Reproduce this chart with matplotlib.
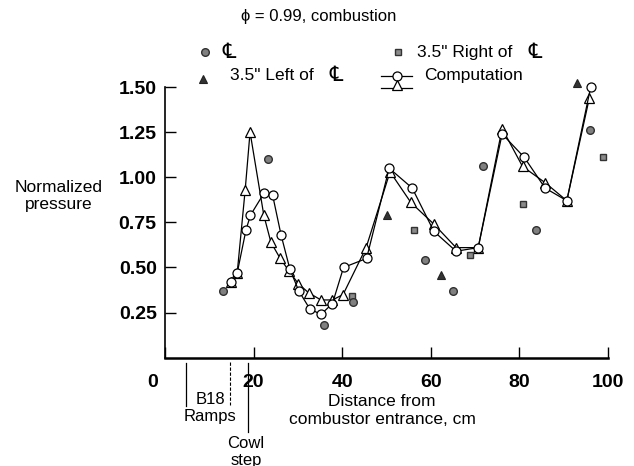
import matplotlib
matplotlib.use("Agg")
import matplotlib.pyplot as plt
from matplotlib.lines import Line2D
from matplotlib.transforms import ScaledTranslation

plt.rcParams['font.family'] = ['Liberation Sans', 'DejaVu Sans', 'Noto Sans CJK JP']

# Computation (open circles)
comp_c_x = [15.0, 16.3, 18.3, 19.3, 22.3, 24.3, 26.2, 28.2, 30.2, 32.7, 35.2, 37.8, 40.3, 45.5,
            50.6, 55.8, 60.7, 65.7, 70.7, 76.1, 81.1, 85.8, 90.7, 96.1]
comp_c_y = [0.42, 0.47, 0.71, 0.79, 0.91, 0.90, 0.68, 0.49, 0.37, 0.27, 0.24, 0.30, 0.50, 0.55,
            1.05, 0.94, 0.70, 0.59, 0.61, 1.24, 1.11, 0.94, 0.87, 1.50]
# Computation (open triangles)
comp_t_x = [15.0, 16.3, 18.1, 19.2, 22.3, 23.9, 26.0, 28.0, 30.1, 32.4, 35.2, 37.8, 40.2, 45.4,
            50.8, 55.5, 60.7, 65.7, 70.7, 76.1, 80.7, 85.8, 90.7, 95.8]
comp_t_y = [0.42, 0.47, 0.93, 1.25, 0.79, 0.64, 0.55, 0.48, 0.41, 0.36, 0.32, 0.32, 0.35, 0.61,
            1.03, 0.86, 0.74, 0.61, 0.61, 1.27, 1.06, 0.97, 0.87, 1.44]
# Experiment: centerline (filled circles)
cl_x = [13.0, 23.2, 36.0, 42.4, 58.8, 65.1, 71.8, 83.7, 95.9]
cl_y = [0.37, 1.10, 0.18, 0.31, 0.54, 0.37, 1.06, 0.71, 1.26]
# Experiment: 3.5" left of centerline (filled triangles)
left_x = [50.2, 62.2, 92.9]
left_y = [0.79, 0.46, 1.52]
# Experiment: 3.5" right of centerline (squares)
right_x = [42.2, 56.2, 68.8, 80.8, 98.8]
right_y = [0.34, 0.71, 0.57, 0.85, 1.11]

xticks = [0, 20, 40, 60, 80, 100]
yticks = [0.25, 0.50, 0.75, 1.00, 1.25, 1.50]

W, H = 634, 466
fig = plt.figure(figsize=(W / 100, H / 100), dpi=100)
def fx(px): return px / W
def fy(py): return 1 - py / H

ax = fig.add_axes([fx(165), fy(357.7), fx(608) - fx(165), fy(87) - fy(357.7)])
ax.set_xlim(0, 100)
ax.set_ylim(0, 1.5)

ax.plot(comp_t_x, comp_t_y, color='black', lw=0.9, marker='^', ms=6.5, mfc='white',
        mec='black', mew=0.9, clip_on=False, zorder=3)
ax.plot(comp_c_x, comp_c_y, color='black', lw=0.9, marker='o', ms=6.5, mfc='white',
        mec='black', mew=0.9, clip_on=False, zorder=4)
ax.plot(right_x, right_y, ls='none', marker='s', ms=4.5, mfc='#8a8a8a', mec='#333333',
        mew=1.0, clip_on=False, zorder=5)
ax.plot(cl_x, cl_y, ls='none', marker='o', ms=5.5, mfc='#808080', mec='#303030',
        mew=1.0, clip_on=False, zorder=6)
ax.plot(left_x, left_y, ls='none', marker='^', ms=6, mfc='#333333', mec='#222222',
        mew=0.8, clip_on=False, zorder=5)

for s in ['top', 'right']:
    ax.spines[s].set_visible(False)
ax.spines['left'].set_linewidth(1.2)
ax.spines['bottom'].set_linewidth(1.8)

ax.set_xticks(xticks)
ax.set_xticklabels([str(v) for v in xticks])
ax.set_yticks(yticks)
ax.set_yticklabels(['%.2f' % v for v in yticks])
ax.tick_params(direction='in', length=8, width=1.0, labelsize=14)
ax.tick_params(axis='x', pad=12)
ax.tick_params(axis='y', pad=6)
for lab in ax.get_xticklabels() + ax.get_yticklabels():
    lab.set_fontweight('bold')
xl = ax.get_xticklabels()
xl[0].set_transform(xl[0].get_transform() + ScaledTranslation(-12.5 / 100, 0, fig.dpi_scale_trans))

fs = 12.5
# Y label
fig.text(fx(59), fy(196), 'Normalized\npressure', ha='center', va='center', fontsize=fs,
         linespacing=1.1)
# X label
fig.text(fx(382), fy(402), 'Distance from', ha='center', va='center', fontsize=fs)
fig.text(fx(382), fy(419), 'combustor entrance, cm', ha='center', va='center', fontsize=fs)
# Annotations below axis
fig.add_artist(Line2D([fx(186), fx(186)], [fy(363), fy(406)], color='black', lw=0.9,
                      transform=fig.transFigure))
fig.add_artist(Line2D([fx(230), fx(230)], [fy(362), fy(405)], color='black', lw=0.8, ls=(0, (3, 1.5)),
                      transform=fig.transFigure))
fig.add_artist(Line2D([fx(247.5), fx(247.5)], [fy(363), fy(432)], color='black', lw=0.9,
                      transform=fig.transFigure))
fig.text(fx(210), fy(400), 'B18', ha='center', va='center', fontsize=12)
fig.text(fx(210), fy(417), 'Ramps', ha='center', va='center', fontsize=12)
fig.text(fx(246), fy(443), 'Cowl', ha='center', va='center', fontsize=12)
fig.text(fx(246), fy(460), 'step', ha='center', va='center', fontsize=12)

# Title
fig.text(fx(319), fy(20.5), 'ϕ = 0.99, combustion', ha='center', va='baseline', fontsize=12)

# Legend (manual)
lfs = 12.5
cfs = 15
def mk(px, py, **kw):
    fig.add_artist(Line2D([fx(px)], [fy(py)], transform=fig.transFigure, ls='none', **kw))
mk(205, 52, marker='o', ms=5.5, mfc='#808080', mec='#303030', mew=1.0)
fig.text(fx(222), fy(58), '℄', ha='left', va='baseline', fontsize=cfs)
mk(398, 52, marker='s', ms=4.5, mfc='#8a8a8a', mec='#333333', mew=1.0)
fig.text(fx(417), fy(57), '3.5" Right of', ha='left', va='baseline', fontsize=lfs)
fig.text(fx(528), fy(58), '℄', ha='left', va='baseline', fontsize=cfs)
mk(203, 79, marker='^', ms=6, mfc='#333333', mec='#222222', mew=0.8)
fig.text(fx(230), fy(80), '3.5" Left of', ha='left', va='baseline', fontsize=lfs)
fig.text(fx(329), fy(81), '℄', ha='left', va='baseline', fontsize=cfs)
fig.add_artist(Line2D([fx(381), fx(412)], [fy(76), fy(76)], color='black', lw=0.9,
                      transform=fig.transFigure))
fig.add_artist(Line2D([fx(381), fx(412)], [fy(87.5), fy(87.5)], color='black', lw=0.9,
                      transform=fig.transFigure))
mk(397, 76, marker='o', ms=6.5, mfc='white', mec='black', mew=0.9)
mk(397, 85, marker='^', ms=6.5, mfc='white', mec='black', mew=0.9)
fig.text(fx(424), fy(80), 'Computation', ha='left', va='baseline', fontsize=lfs)

fig.savefig('out.png', dpi=100)
